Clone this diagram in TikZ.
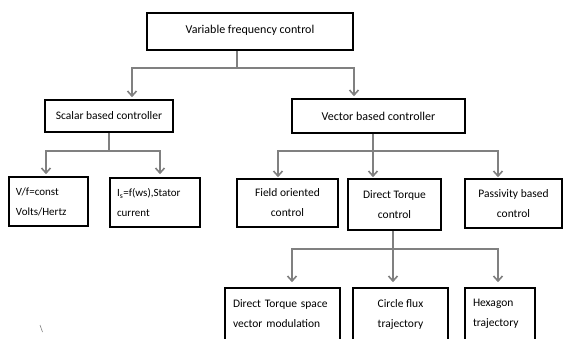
\documentclass[tikz,border=0pt]{standalone}
\usepackage{fontspec}
\setmainfont{Carlito}
\usetikzlibrary{arrows.meta}
\definecolor{conngray}{RGB}{128,128,128}
\begin{document}
\begin{tikzpicture}[x=1pt,y=-1pt,
  font=\fontsize{11.5}{20}\selectfont,
  box/.style n args={2}{draw=black,line width=1.6pt,minimum width=#1,minimum height=#2,inner sep=0pt,align=center},
  lbox/.style n args={4}{draw=black,line width=1.6pt,minimum width=#1,minimum height=#2,inner xsep=#3,inner ysep=0pt,text width=#4,align=left},
  conn/.style={draw=conngray,line width=2.2pt},
  arr/.style={conn,-{Straight Barb[length=5pt,width=9pt,line width=1.6pt]}}]
\useasboundingbox (0,0) rectangle (563,338);
\fill[white] (0,0) rectangle (563,338);

\node[box={206pt}{37pt},font=\fontsize{12}{20}\selectfont] (top) at (250,31.5) {\raisebox{4pt}{Variable frequency control}};
\node[box={128pt}{32pt},font=\fontsize{11.5}{20}\selectfont] (scalar) at (109,116) {Scalar based controller};
\node[box={173pt}{34pt},font=\fontsize{12}{20}\selectfont] (vector) at (378.5,116) {Vector based controller};

\node[lbox={79pt}{49pt}{2pt}{75pt},font=\fontsize{11}{20}\selectfont] (vf) at (48.5,201.5) {\hspace*{5pt}V/f=const\\\hspace*{5pt}Volts/Hertz};
\node[lbox={90pt}{49pt}{7pt}{76pt},font=\fontsize{11}{20}\selectfont] (is) at (155,202.5) {I\textsubscript{s}=f(ws),Stator\\current};

\node[box={101pt}{48pt}] (foc) at (287.5,203) {Field oriented\\control};
\node[box={93pt}{51pt}] (dtc) at (394.5,204.5) {Direct Torque\\control};
\node[box={97pt}{49pt}] (pbc) at (513.5,203.5) {Passivity based\\control};

\node[lbox={115pt}{52pt}{8pt}{99pt}] (dtsvm) at (282.5,314) {Direct Torque space\\vector modulation};
\node[box={95pt}{52pt}] (cft) at (400.5,314) {Circle flux\\trajectory};
\node[lbox={70pt}{52pt}{8pt}{54pt}] (hex) at (500,314) {Hexagon\\trajectory};

% level 1 connectors
\draw[conn] ([xshift=-13pt]top.south) -- ++(0,17) coordinate (j1);
\draw[arr] (j1) -| ([xshift=23pt,yshift=2pt]scalar.north);
\draw[arr] (j1) -| ([xshift=-24.5pt,yshift=2pt]vector.north);

% scalar connectors
\draw[conn] (scalar.south) -- ++(0,18) coordinate (j2);
\draw[arr] (j2) -| ([xshift=-2.5pt,yshift=2pt]vf.north);
\draw[arr] (j2) -| ([xshift=5pt,yshift=3pt]is.north);

% vector connectors
\draw[conn] ([xshift=-5.5pt]vector.south) -- ++(0,17) coordinate (j3);
\draw[arr] (j3) -| ([xshift=-9.5pt,yshift=1pt]foc.north);
\draw[arr] (j3) -- ([xshift=-21.5pt,yshift=1pt]dtc.north);
\draw[arr] (j3) -| ([xshift=-15.5pt,yshift=1pt]pbc.north);

% direct torque connectors
\draw[conn] ([xshift=-1.5pt]dtc.south) -- ++(0,18) coordinate (j4);
\draw[arr] (j4) -| ([xshift=9.5pt,yshift=5pt]dtsvm.north);
\draw[arr] (j4) -- ([xshift=-7.5pt,yshift=5pt]cft.north);
\draw[arr] (j4) -| ([xshift=-2pt,yshift=5pt]hex.north);

% stray mark
\draw[conngray,line width=0.6pt] (40,325) -- (42.5,332);
\end{tikzpicture}
\end{document}
